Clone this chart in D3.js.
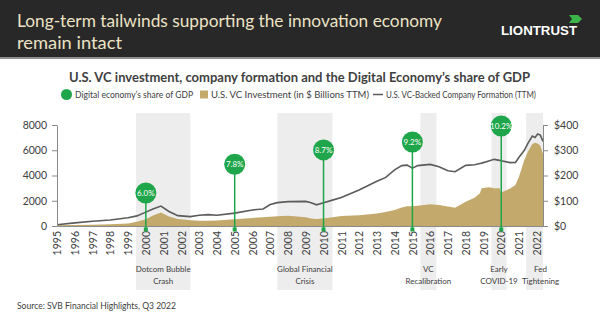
<!DOCTYPE html>
<html><head><meta charset="utf-8">
<script src="https://cdn.jsdelivr.net/npm/d3@7"></script>
<style>body{margin:0;background:#fff}svg{display:block}</style>
</head><body><svg id="c" width="600" height="322"></svg>
<script>
// ---- data ----
const years = d3.range(1995, 2023);
const dates = [1995,1996,1997,1998,1999,1999.5,2000,2000.4,2000.85,2001.3,2001.8,2002.5,2003,2003.5,2004,2005,2006,2006.6,2007,2007.4,2008,2009,2009.3,2009.6,2010,2010.5,2011,2012,2013,2013.5,2014,2014.4,2014.7,2015,2015.3,2016,2016.5,2017,2017.4,2018,2018.5,2018.8,2018.9,2019.3,2019.6,2019.9,2020,2020.5,2020.8,2021,2021.3,2021.5,2021.75,2021.9,2022.05,2022.2,2022.35];
const formation = [100,250,380,480,650,800,1100,1350,1580,1150,820,740,850,900,850,1020,1270,1350,1700,1850,1930,1950,1850,1680,1850,2050,2250,2850,3550,3850,4450,4780,4820,4580,4780,4880,4700,4380,4300,4800,4850,4950,4980,5150,5280,5200,5170,5020,5030,5450,6000,6550,7130,7020,7290,7200,6700];
const vcInvestment = [3,4,5,7,10,17,27,42,53,38,28,23,21,21,22,27,32,35,37,39,41,35,30,28,30,35,40,43,50,55,63,73,78,78,80,86,83,77,72,96,112,130,150,153,150,150,133,149,162,195,261,294,325,330,327,318,285];
const leftTicks = [0,2000,4000,6000,8000];
const rightTicks = [0,100,200,300,400];
const gdpYears = [2000,2005,2010,2015,2020];
const gdpShare = [6.0,7.8,8.7,9.2,10.2];
const periodStart = [1999.45,2007.4,2015.45,2019.45,2021.4];
const periodEnd = [2002.5,2010.5,2016.35,2020.3,2022.35];
const periodLabels = [["Dotcom Bubble","Crash"],["Global Financial","Crisis"],["VC","Recalibration"],["Early","COVID-19"],["Fed","Tightening"]];

// ---- drawing ----
const svg = d3.select('#c');
const FONT = 'Lato, "Open Sans", sans-serif';
const green = '#1fa64b', tan = '#c3a96b', lineCol = '#5b5b5b', txt = '#404040', axisCol = '#8a8a8a';

// header
svg.append('rect').attr('width',600).attr('height',57).attr('fill','#282828');
svg.append('rect').attr('y',57).attr('width',600).attr('height',2).attr('fill','#8e8e8e');
svg.append('text').attr('x',17).attr('y',27).attr('fill','#ece2c4').style('font-family',FONT).style('font-size','18px')
  .attr('textLength',425).attr('lengthAdjust','spacingAndGlyphs').text('Long-term tailwinds supporting the innovation economy');
svg.append('text').attr('x',17).attr('y',49).attr('fill','#ece2c4').style('font-family',FONT).style('font-size','18px')
  .attr('textLength',105).attr('lengthAdjust','spacingAndGlyphs').text('remain intact');
svg.append('text').attr('x',501).attr('y',34.5).attr('fill','#ffffff').style('font-family','"Liberation Sans", Arial, sans-serif')
  .style('font-size','13px').style('font-weight','bold').attr('textLength',76).attr('lengthAdjust','spacingAndGlyphs').text('LIONTRUST');
svg.append('path').attr('d','M569,15 L578,15 L582,19 L578,23 L569,23 L572,19 Z').attr('fill','#3cb54a');

// scales
const x = d3.scaleLinear().domain([1995, 2022.35]).range([57, 543]);
const yL = d3.scaleLinear().domain([0, 8000]).range([226, 125]);
const yR = d3.scaleLinear().domain([0, 400]).range([226, 125]);
const yG = d3.scaleLinear().domain([6.0, 10.2]).range([193, 126]);

// chart title + legend
svg.append('text').attr('x',69).attr('y',82).attr('fill',txt).style('font-family',FONT).style('font-size','12.5px').style('font-weight','bold')
  .attr('textLength',461).attr('lengthAdjust','spacingAndGlyphs').text('U.S. VC investment, company formation and the Digital Economy\u2019s share of GDP');
const lg = svg.append('g').style('font-family',FONT).style('font-size','8.5px').attr('fill',txt);
lg.append('circle').attr('cx',66.5).attr('cy',94.5).attr('r',5.5).attr('fill',green);
lg.append('text').attr('x',75).attr('y',97.5).attr('textLength',118).attr('lengthAdjust','spacingAndGlyphs').text('Digital economy\u2019s share of GDP');
lg.append('rect').attr('x',200).attr('y',90.5).attr('width',8).attr('height',8).attr('fill',tan);
lg.append('text').attr('x',211).attr('y',97.5).attr('textLength',158).attr('lengthAdjust','spacingAndGlyphs').text('U.S. VC Investment (in $ Billions TTM)');
lg.append('line').attr('x1',373).attr('x2',383).attr('y1',94.5).attr('y2',94.5).attr('stroke',lineCol).attr('stroke-width',1.5);
lg.append('text').attr('x',386).attr('y',97.5).attr('textLength',150).attr('lengthAdjust','spacingAndGlyphs').text('U.S. VC-Backed Company Formation (TTM)');

// period bands
const bands = svg.append('g');
periodStart.forEach((s,i)=>{
  bands.append('rect').attr('x',x(s)).attr('y',113).attr('width',x(periodEnd[i])-x(s)).attr('height',177).attr('fill','#ededed');
  const last = i === periodStart.length-1;
  const cx = (x(s)+x(periodEnd[i]))/2 + (last ? 6 : 0);
  const t = bands.append('text').attr('text-anchor','middle').attr('fill',txt).style('font-family',FONT).style('font-size','8px');
  t.append('tspan').attr('x',cx).attr('y',272).text(periodLabels[i][0]);
  t.append('tspan').attr('x',cx).attr('y',284).text(periodLabels[i][1]);
});

// area + line
const pts = dates.map((d,i)=>({t:d, f:formation[i], v:vcInvestment[i]}));
svg.append('path').datum(pts).attr('fill',tan)
  .attr('d', d3.area().x(d=>x(d.t)).y0(yR(0)).y1(d=>yR(d.v)));
svg.append('path').datum(pts).attr('fill','none').attr('stroke',lineCol).attr('stroke-width',1.6)
  .attr('d', d3.line().x(d=>x(d.t)).y(d=>yL(d.f)));

// axes
function styleAxis(g){
  g.selectAll('path,line').attr('stroke',axisCol);
  g.selectAll('text').attr('fill',txt).style('font-family',FONT).style('font-size','10.5px');
}
svg.append('g').attr('transform','translate(57,0)')
  .call(d3.axisLeft(yL).tickValues(leftTicks).tickSize(5).tickSizeOuter(0).tickPadding(5).tickFormat(d3.format('d'))).call(styleAxis);
svg.append('g').attr('transform','translate(543,0)')
  .call(d3.axisRight(yR).tickValues(rightTicks).tickSize(5).tickSizeOuter(0).tickPadding(6).tickFormat(d=>'$'+d)).call(styleAxis);
const xa = svg.append('g').attr('transform','translate(0,226)')
  .call(d3.axisBottom(x).tickValues(years).tickSize(0).tickSizeOuter(0).tickFormat(d3.format('d'))).call(styleAxis);
xa.selectAll('text').attr('x',-5).attr('y',0).attr('dy','0.35em').attr('transform','rotate(-90)').style('text-anchor','end');

// GDP markers
const mk = svg.append('g');
gdpYears.forEach((yr,i)=>{
  const cx = x(yr), cy = yG(gdpShare[i]);
  mk.append('line').attr('x1',cx).attr('x2',cx).attr('y1',cy).attr('y2',yL(0)+5).attr('stroke',green).attr('stroke-width',1.5);
  mk.append('rect').attr('x',cx-2).attr('y',yL(0)+1.5).attr('width',4).attr('height',4).attr('fill',green);
  mk.append('circle').attr('cx',cx).attr('cy',cy).attr('r',10.5).attr('fill',green);
  mk.append('text').attr('x',cx).attr('y',cy).attr('dy','0.35em').attr('text-anchor','middle').attr('fill','#fff')
    .style('font-family',FONT).style('font-size','8px').text(gdpShare[i].toFixed(1)+'%');
});

// source
svg.append('text').attr('x',17).attr('y',309).attr('fill',txt).style('font-family',FONT).style('font-size','8.5px')
  .attr('textLength',159).attr('lengthAdjust','spacingAndGlyphs').text('Source: SVB Financial Highlights, Q3 2022');
</script></body></html>
